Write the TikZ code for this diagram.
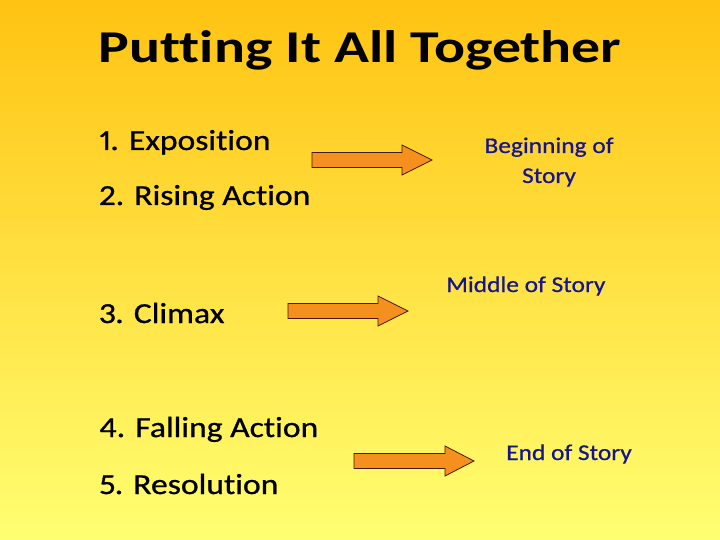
\documentclass[tikz,border=0pt]{standalone}
\usepackage{fontspec}
\setmainfont{Carlito}[Ligatures=NoCommon, Numbers=Proportional]
\newfontfamily\titlefont{Carlito}[Ligatures=NoCommon, FakeStretch=1.27]
\newfontfamily\itemfont{Carlito}[Ligatures=NoCommon, Numbers=Proportional, FakeStretch=1.16, FakeBold=0.8]
\newfontfamily\labfont{Carlito}[Ligatures=NoCommon, FakeStretch=1.13, FakeBold=0.6]
\usetikzlibrary{shapes.arrows}
\definecolor{bgtop}{HTML}{FFC312}
\definecolor{bgbot}{HTML}{FFFF72}
\definecolor{arrowfill}{HTML}{F5901E}
\definecolor{arrowline}{HTML}{4A1A08}
\definecolor{labblue}{HTML}{14148F}
\tikzset{
  item/.style={anchor=base west, inner sep=0pt, font=\itemfont\fontsize{29}{34}\selectfont},
  labc/.style={anchor=base, inner sep=0pt, text=labblue, font=\labfont\fontsize{22.5}{28}\selectfont},
  lab/.style={labc, anchor=base west},
  fatarrow/.style={fill=arrowfill, draw=arrowline, line width=0.8pt, line join=miter}
}
\newcommand{\fatarrowshape}[5]{% name, x0, x1(head start), x2(tip), yc
  \draw[fatarrow] (#2,{#5+7.5}) -- (#3,{#5+7.5}) -- (#3,{#5+15}) -- (#4,#5) -- (#3,{#5-15}) -- (#3,{#5-7.5}) -- (#2,{#5-7.5}) -- cycle;
  \coordinate (#1) at (#4,#5);
}
\begin{document}
\begin{tikzpicture}[x=1pt,y=-1pt]
\useasboundingbox (0,0) rectangle (720,540);
\shade[top color=bgtop, bottom color=bgbot] (0,0) rectangle (720,540);
\node[anchor=base, inner sep=0pt, font=\titlefont\bfseries\fontsize{45.5}{52}\selectfont] (title) at (360,63) {Putting It All Together};
\node[item] (i1) at (99,150) {1. Exposition};
\node[item] (i2) at (99,205) {2. Rising Action};
\node[item] (i3) at (99,323) {3. Climax};
\node[item] (i4) at (99,437) {4. Falling Action};
\node[item] (i5) at (99,494) {5. Resolution};
\node[labc] (l1a) at (549,153) {Beginning of};
\node[labc] (l1b) at (549,183) {Story};
\node[lab] (l2) at (446,292) {Middle of Story};
\node[lab] (l3) at (506,460) {End of Story};
\fatarrowshape{a1}{312}{402}{432}{160}
\fatarrowshape{a2}{288}{378}{408}{311}
\fatarrowshape{a3}{354}{445}{474}{461}
\end{tikzpicture}
\end{document}
